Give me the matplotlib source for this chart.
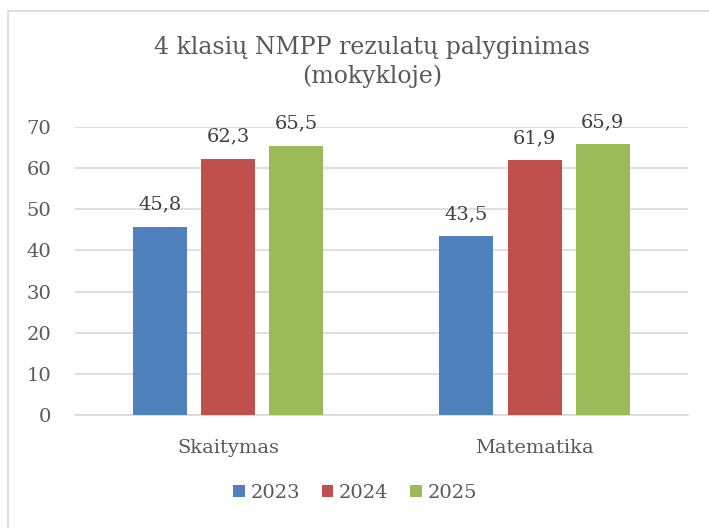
import matplotlib
matplotlib.use("Agg")
import matplotlib.pyplot as plt
import numpy as np
from matplotlib.patches import Rectangle

categories = ["Skaitymas", "Matematika"]
years = ["2023", "2024", "2025"]
values_2023 = [45.8, 43.5]
values_2024 = [62.3, 61.9]
values_2025 = [65.5, 65.9]
series = [values_2023, values_2024, values_2025]
colors = ["#4F81BD", "#C0504D", "#9BBB59"]
yticks = [0, 10, 20, 30, 40, 50, 60, 70]

plt.rcParams['font.family'] = ['DejaVu Serif']
txt = "#595959"

W, H = 709, 528
fig = plt.figure(figsize=(W/100, H/100), dpi=100)
fig.patches.append(Rectangle((8/W, -0.01), 1.0, (H-11)/H + 0.01, transform=fig.transFigure,
                             fill=False, edgecolor="#D9D9D9", linewidth=1.2))

ax = fig.add_axes([75/W, 1-415/H, 613/W, (415-127)/H])
ax.set_ylim(0, 70)
ax.set_xlim(-0.5, 1.5)
x = np.arange(len(categories))
width = 0.176
offsets = [-0.2235, 0.0, 0.222]
for vals, off, c, yr in zip(series, offsets, colors, years):
    bars = ax.bar(x + off, vals, width, color=c, label=yr, zorder=3)
    for b, v in zip(bars, vals):
        ax.text(b.get_x() + b.get_width()/2, v + 4.1, f"{v:.1f}".replace(".", ","),
                ha="center", va="baseline", fontsize=14, color="#404040")

ax.set_yticks(yticks)
ax.yaxis.grid(True, color="#D9D9D9", linewidth=1.2, zorder=0)
ax.set_axisbelow(True)
for s in ["top", "right", "left"]:
    ax.spines[s].set_visible(False)
ax.spines["bottom"].set_color("#D9D9D9")
ax.spines["bottom"].set_linewidth(1.2)
ax.tick_params(axis="y", length=0, labelsize=14, labelcolor=txt, pad=17)
ax.tick_params(axis="x", length=0, labelsize=14, labelcolor=txt, pad=17)
ax.set_xticks(x)
ax.set_xticklabels(categories)

fig.text(372/W, 1-62/H, "4 klasių NMPP rezulatų palyginimas\n(mokykloje)", ha="center", va="center",
         fontsize=17, color=txt, linespacing=1.3)

leg = fig.legend(loc="center", bbox_to_anchor=(355/W, 1-493/H), ncol=3, frameon=False,
                 fontsize=14, handlelength=0.6, handleheight=0.6, handletextpad=0.3, columnspacing=1.1,
                 labelcolor=txt)

fig.savefig("out.png", dpi=100)
